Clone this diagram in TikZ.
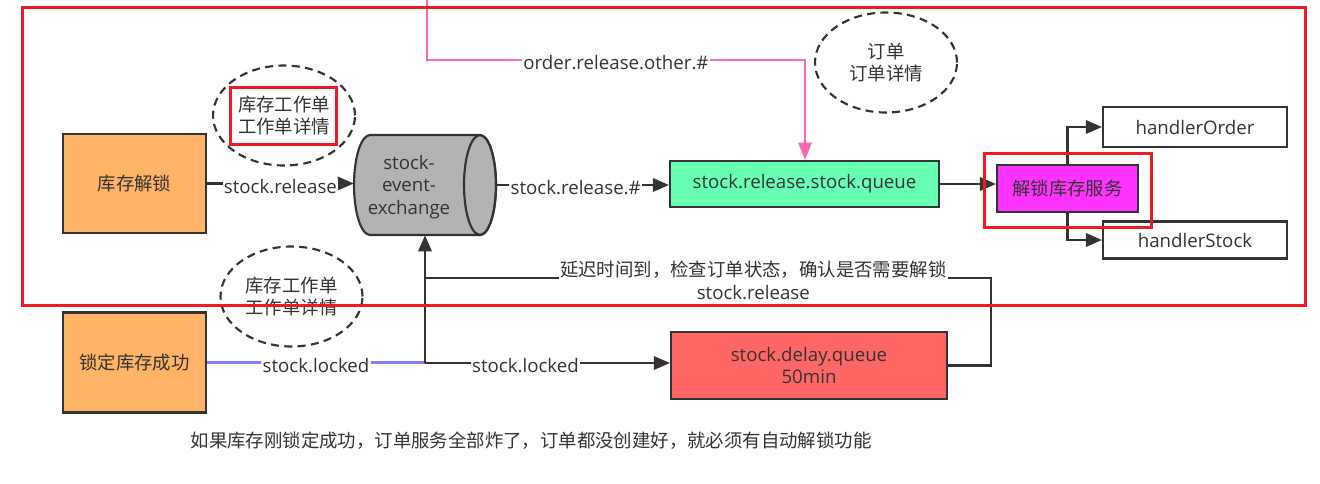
\documentclass[tikz,border=0pt]{standalone}
\usepackage{fontspec}
\setmainfont{Open Sans}
\newfontfamily\cjk{Noto Sans CJK SC}
\usetikzlibrary{shapes.geometric,arrows.meta}
\definecolor{tx}{HTML}{333333}
\definecolor{orng}{HTML}{FFB366}
\definecolor{grayc}{HTML}{B3B3B3}
\definecolor{grn}{HTML}{66FFB3}
\definecolor{mag}{HTML}{FF33FF}
\definecolor{redq}{HTML}{FF6666}
\definecolor{pinkc}{HTML}{FF66B3}
\definecolor{bluec}{HTML}{8080FF}
\definecolor{redf}{HTML}{ED1C24}
\begin{document}
\begin{tikzpicture}[x=0.75pt,y=-0.75pt,
  font=\fontsize{14}{16.5}\selectfont, text=tx,
  cjkf/.style={font=\cjk\fontsize{13.8}{16}\selectfont},
  box/.style={draw=tx, line width=1.6pt, inner sep=0pt, align=center},
  conn/.style={draw=tx, line width=1.6pt, -{Triangle[length=12pt,width=10pt]}},
  plain/.style={draw=tx, line width=1.6pt},
  lbl/.style={fill=white, inner sep=1pt, yshift=-2pt},
  bubble/.style={ellipse, draw=tx, line width=1.6pt, dash pattern=on 6pt off 4pt,
    inner sep=0pt, align=center, minimum width=142*0.75pt, minimum height=100*0.75pt},
  frame/.style={draw=redf, line width=2.25pt}]
\useasboundingbox[fill=white] (0,0) rectangle (1320,483);

% boxes
\node[box, cjkf, fill=orng, minimum width=143*0.75pt, minimum height=99*0.75pt] (unl) at (134.5,183.5) {库存解锁};
\node[box, cjkf, fill=orng, minimum width=143*0.75pt, minimum height=100*0.75pt] (lok) at (134.5,362.5) {锁定库存成功};

% cylinder exchange
\node[minimum width=142*0.75pt, minimum height=100*0.75pt, inner sep=0pt] (ex) at (425,185) {};
\draw[draw=tx, line width=1.6pt, fill=grayc] (480,135) -- (370,135)
  arc[start angle=90, end angle=270, x radius=12pt, y radius=37.5pt] -- (480,235)
  arc[start angle=-90, end angle=90, x radius=12pt, y radius=37.5pt] -- cycle;
\draw[draw=tx, line width=1.6pt] (480,185) ellipse[x radius=12pt, y radius=37.5pt];
\node[align=center, font=\fontsize{14}{16.8}\selectfont] (ext) at (409,187) {stock-\\event-\\exchange};

\node[box, fill=grn, minimum width=269*0.75pt, minimum height=46*0.75pt] (q) at (804.5,184) {stock.release.stock.queue};
\node[box, cjkf, fill=mag, minimum width=141*0.75pt, minimum height=47*0.75pt] (svc) at (1067.5,188.5) {解锁库存服务};
\node[box, fill=white, minimum width=184*0.75pt, minimum height=40*0.75pt] (ho) at (1195,127) {handlerOrder};
\node[box, fill=white, minimum width=184*0.75pt, minimum height=37*0.75pt] (hs) at (1195,240) {handlerStock};
\node[box, fill=redq, minimum width=276*0.75pt, minimum height=67*0.75pt, font=\fontsize{14}{16.5}\selectfont] (dq) at (809,365.5) {stock.delay.queue\\50min};

% bubbles
\node[bubble, cjkf] (n1) at (284,115.5) {库存工作单\\工作单详情};
\node[bubble, cjkf] (n2) at (291.5,296.5) {库存工作单\\工作单详情};
\node[bubble, cjkf] (n3) at (886,62.5) {订单\\订单详情};

% connectors
\draw[conn] (unl.east) -- node[lbl]{stock.release} (unl.east -| ex.west);
\draw[conn] (ex.east) -- node[lbl, pos=0.46]{stock.release.\#} (ex.east -| q.west);
\draw[conn] (q.east) -- (q.east -| svc.west);
\draw[conn] (svc.north) |- (ho.west);
\draw[conn] (svc.south) |- (hs.west);

\coordinate (ptop) at (427,-3);
\coordinate (pc) at (805,60);
\draw[draw=pinkc, line width=1.6pt, -{Triangle[length=13pt,width=10pt]}]
  (ptop) |- node[lbl, pos=0.75]{order.release.other.\#} (pc) -- (pc |- q.north);

\coordinate (J) at (425,363);
\coordinate (J2) at (425,278);
\draw[draw=bluec, line width=1.6pt] (lok.east) -- node[lbl]{stock.locked} (lok.east -| J);
\draw[conn] (J) -- node[lbl, pos=0.41]{stock.locked} (J -| dq.west);
\draw[conn] (J) -- (ex.south);
\draw[plain] (dq.east) -- ++(43,0) |- node[fill=white, inner sep=1pt, align=center, pos=0.71, yshift=-2pt, font=\fontsize{14}{17.25}\selectfont]
  {{\cjk\fontsize{13.8}{17.25}\selectfont 延迟时间到，检查订单状态，确认是否需要解锁}\\stock.release} (J2);

\node[cjkf] (note) at (531,441) {如果库存刚锁定成功，订单服务全部炸了，订单都没创建好，就必须有自动解锁功能};

% red highlight frames
\draw[frame] (22,7) rectangle (1305,305);
\draw[frame] (230,87) rectangle (336,144);
\draw[frame] (984,153) rectangle (1151,227);
\end{tikzpicture}
\end{document}
